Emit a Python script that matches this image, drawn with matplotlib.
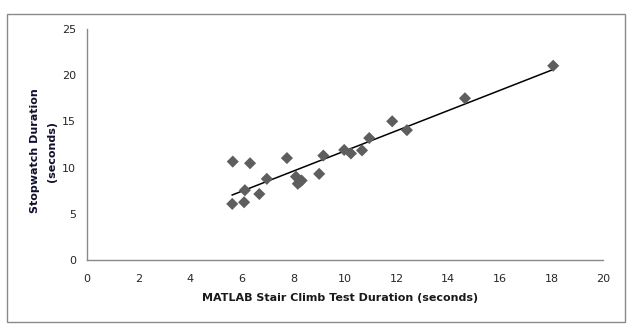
import numpy as np
import matplotlib
matplotlib.use("Agg")
import matplotlib.pyplot as plt
from matplotlib.patches import Rectangle

# stair climb durations: MATLAB measurement vs stopwatch (seconds)
matlab_sec = [5.65, 6.32, 5.63, 6.12, 6.09, 6.68, 6.97, 7.75, 8.10, 8.32, 8.17,
              8.25, 9.00, 9.16, 9.97, 10.23, 10.66, 10.94, 11.83, 12.40, 14.65, 18.07]
stopwatch_sec = [10.65, 10.47, 6.07, 7.55, 6.25, 7.14, 8.78, 11.03, 9.02, 8.60, 8.25,
                 8.45, 9.32, 11.30, 11.91, 11.53, 11.86, 13.20, 15.01, 14.05, 17.50, 21.02]
x_ticks = [0, 2, 4, 6, 8, 10, 12, 14, 16, 18, 20]
y_ticks = [0, 5, 10, 15, 20, 25]

fig = plt.figure(figsize=(6.33, 3.32), dpi=100)
ax = fig.add_axes([0.1374, 0.2169, 0.8152, 0.6958])

ax.scatter(matlab_sec, stopwatch_sec, marker="D", s=38, color="#5e5e5e",
           edgecolors="none", zorder=3)

# linear trendline over the data range
k, b = np.polyfit(matlab_sec, stopwatch_sec, 1)
xs = np.array([min(matlab_sec), max(matlab_sec)])
ax.plot(xs, k * xs + b, color="black", lw=1.1, zorder=2)

ax.set_xlim(0, 20)
ax.set_ylim(0, 25)
ax.set_xticks(x_ticks)
ax.set_yticks(y_ticks)
ax.tick_params(length=0, labelsize=8, colors="#262626")
ax.tick_params(axis="y", pad=8)
ax.tick_params(axis="x", pad=10)
for s in ["top", "right"]:
    ax.spines[s].set_visible(False)
for s in ["left", "bottom"]:
    ax.spines[s].set_color("#8a8a8a")
    ax.spines[s].set_linewidth(1)

fig.text(0.537, 0.102, "MATLAB Stair Climb Test Duration (seconds)",
         ha="center", va="center", fontsize=8, fontweight="bold", color="#1a1a1a")
fig.text(0.055, 0.545, "Stopwatch Duration", rotation=90,
         ha="center", va="center", fontsize=8, fontweight="bold", color="#10102e")
fig.text(0.082, 0.545, "(seconds)", rotation=90,
         ha="center", va="center", fontsize=8, fontweight="bold", color="#10102e")

# chart area border
fig.patches.append(Rectangle((0.011, 0.030), 0.976, 0.928, transform=fig.transFigure,
                             fill=False, edgecolor="#8a8a8a", lw=1))

fig.savefig("out.png", dpi=100)
